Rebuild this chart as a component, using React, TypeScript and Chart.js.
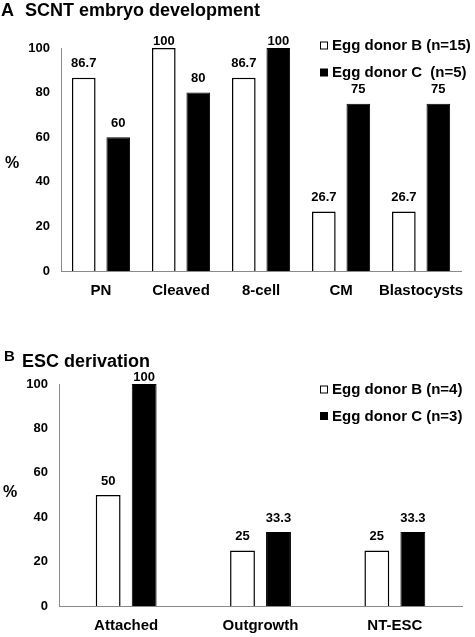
import React, { useEffect, useRef } from "react";
import { Chart, registerables } from "chart.js";

Chart.register(...registerables);

const FONT = "'Liberation Sans', Arial, Helvetica, sans-serif";

// Panel A – SCNT embryo development
const embryoStages = ["PN", "Cleaved", "8-cell", "CM", "Blastocysts"];
const embryoDonorB = [86.7, 100, 86.7, 26.7, 26.7];
const embryoDonorC = [60, 80, 100, 75, 75];
const embryoLegend = ["Egg donor B (n=15)", "Egg donor C  (n=5)"];

// Panel B – ESC derivation
const escStages = ["Attached", "Outgrowth", "NT-ESC"];
const escDonorB = [50, 25, 25];
const escDonorC = [100, 33.3, 33.3];
const escLegend = ["Egg donor B (n=4)", "Egg donor C (n=3)"];

const yTickValues = [0, 20, 40, 60, 80, 100];

type Panel = {
  letter: string;
  title: string;
  labels: string[];
  b: number[];
  c: number[];
  legend: string[];
  width: number;
  height: number;
  padTop: number;
  padRight: number;
  yWidth: number;
  xHeight: number;
  catPct: number;
  barPct: number;
  letterX: number;
  letterSize: number;
  letterBase: number;
  titleX: number;
  titleBase: number;
  legendSquareX: number;
  legendTextX: number;
  legendBases: number[];
  percentX: number;
  percentY: number;
};

const panelA: Panel = {
  letter: "A",
  title: "SCNT embryo development",
  labels: embryoStages,
  b: embryoDonorB,
  c: embryoDonorC,
  legend: embryoLegend,
  width: 475,
  height: 310,
  padTop: 48,
  padRight: 8,
  yWidth: 61,
  xHeight: 39,
  catPct: 0.862,
  barPct: 0.686,
  letterX: 1,
  letterSize: 18,
  letterBase: 15.5,
  titleX: 25,
  titleBase: 15.5,
  legendSquareX: 320,
  legendTextX: 332,
  legendBases: [50, 77],
  percentX: 12,
  percentY: 164,
};

const panelB: Panel = {
  letter: "B",
  title: "ESC derivation",
  labels: escStages,
  b: escDonorB,
  c: escDonorC,
  legend: escLegend,
  width: 475,
  height: 327,
  padTop: 74,
  padRight: 13,
  yWidth: 59,
  xHeight: 31,
  catPct: 0.536,
  barPct: 0.69,
  letterX: 4,
  letterSize: 15,
  letterBase: 51,
  titleX: 22,
  titleBase: 57,
  legendSquareX: 320,
  legendTextX: 332,
  legendBases: [84, 110.5],
  percentX: 10,
  percentY: 183,
};

function ChartPanel({ p, top }: { p: Panel; top: number }) {
  const ref = useRef<HTMLCanvasElement | null>(null);

  useEffect(() => {
    if (!ref.current) return;

    const decor = {
      id: "decor_" + p.letter,
      afterDatasetsDraw(chart: any) {
        const ctx = chart.ctx;
        const area = chart.chartArea;
        ctx.save();
        ctx.fillStyle = "#000";
        ctx.textAlign = "center";
        ctx.textBaseline = "middle";
        ctx.font = `bold 13px ${FONT}`;
        chart.data.datasets.forEach((ds: any, di: number) => {
          const meta = chart.getDatasetMeta(di);
          meta.data.forEach((bar: any, i: number) => {
            const v = ds.data[i];
            const y = Math.max(bar.y - 14, area.top - 7);
            ctx.fillText(String(v), bar.x, y);
          });
        });
        ctx.restore();
      },
      afterDraw(chart: any) {
        const ctx = chart.ctx;
        ctx.save();
        ctx.fillStyle = "#000";
        ctx.textBaseline = "alphabetic";
        ctx.textAlign = "left";
        // title
        ctx.font = `bold ${p.letterSize}px ${FONT}`;
        ctx.fillText(p.letter, p.letterX, p.letterBase);
        ctx.font = `bold 18px ${FONT}`;
        ctx.fillText(p.title, p.titleX, p.titleBase);
        // legend
        ctx.font = `bold 15px ${FONT}`;
        p.legend.forEach((txt, i) => {
          const base = p.legendBases[i];
          const sq = 8;
          const sy = base - 8.5;
          if (i === 0) {
            ctx.fillStyle = "#fff";
            ctx.fillRect(p.legendSquareX, sy, sq, sq);
            ctx.strokeStyle = "#000";
            ctx.lineWidth = 1;
            ctx.strokeRect(p.legendSquareX + 0.5, sy + 0.5, sq - 1, sq - 1);
          } else {
            ctx.fillStyle = "#000";
            ctx.fillRect(p.legendSquareX, sy, sq, sq);
          }
          ctx.fillStyle = "#000";
          ctx.fillText(txt, p.legendTextX, base);
        });
        // % label
        ctx.font = `bold 16px ${FONT}`;
        ctx.textAlign = "center";
        ctx.textBaseline = "middle";
        ctx.fillText("%", p.percentX, p.percentY);
        ctx.restore();
      },
    };

    const chart = new Chart(ref.current, {
      type: "bar",
      data: {
        labels: p.labels,
        datasets: [
          {
            label: p.legend[0],
            data: p.b,
            backgroundColor: "#ffffff",
            borderColor: "#000000",
            borderWidth: 1.5,
            categoryPercentage: p.catPct,
            barPercentage: p.barPct,
          },
          {
            label: p.legend[1],
            data: p.c,
            backgroundColor: "#000000",
            borderColor: "#000000",
            borderWidth: 1,
            categoryPercentage: p.catPct,
            barPercentage: p.barPct,
          },
        ],
      },
      options: {
        responsive: false,
        animation: false,
        devicePixelRatio: 1,
        layout: {
          padding: { top: p.padTop, right: p.padRight, left: 0, bottom: 0 },
        },
        plugins: {
          legend: { display: false },
          tooltip: { enabled: false },
          title: { display: false },
        },
        scales: {
          x: {
            grid: { display: false, drawTicks: false },
            border: { display: true, color: "#8a8a8a", width: 1 },
            ticks: {
              color: "#000",
              font: { family: FONT, size: 15, weight: "bold" },
              padding: 11,
              maxRotation: 0,
              autoSkip: false,
            },
            afterFit: (s: any) => {
              s.height = p.xHeight;
            },
          },
          y: {
            min: 0,
            max: 100,
            grid: { display: false, drawTicks: false },
            border: { display: true, color: "#8a8a8a", width: 1 },
            afterBuildTicks: (s: any) => {
              s.ticks = yTickValues.map((v) => ({ value: v }));
            },
            ticks: {
              color: "#000",
              font: { family: FONT, size: 13, weight: "bold" },
              padding: 11,
            },
            afterFit: (s: any) => {
              s.width = p.yWidth;
            },
          },
        },
      },
      plugins: [decor],
    } as any);

    return () => chart.destroy();
  }, [p]);

  return (
    <canvas
      ref={ref}
      width={p.width}
      height={p.height}
      style={{
        position: "absolute",
        left: 0,
        top,
        width: p.width,
        height: p.height,
        display: "block",
      }}
    />
  );
}

export default function App() {
  useEffect(() => {
    document.body.style.margin = "0";
    document.body.style.background = "#fff";
  }, []);
  return (
    <div
      style={{
        position: "absolute",
        left: 0,
        top: 0,
        width: 475,
        height: 637,
        background: "#fff",
        overflow: "hidden",
      }}
    >
      <ChartPanel p={panelA} top={0} />
      <ChartPanel p={panelB} top={310} />
    </div>
  );
}
